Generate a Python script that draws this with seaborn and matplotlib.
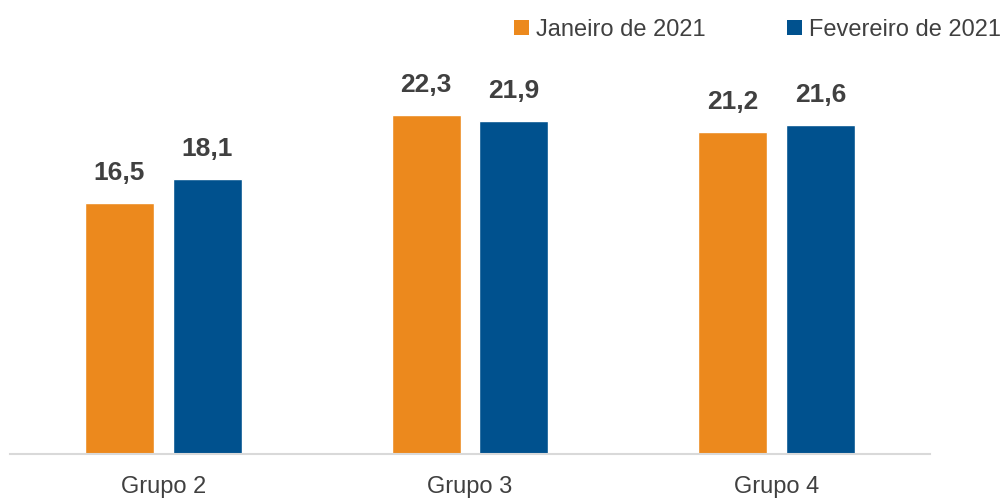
import matplotlib
matplotlib.use("Agg")
import matplotlib.pyplot as plt
import seaborn as sns
import pandas as pd
from matplotlib.patches import Patch

categories = ["Grupo 2", "Grupo 3", "Grupo 4"]
series_names = ["Janeiro de 2021", "Fevereiro de 2021"]
jan_values = [16.5, 22.3, 21.2]
fev_values = [18.1, 21.9, 21.6]

colors = ["#EC891D", "#00518E"]
text_color = "#404040"

sns.set_theme(style="white")
plt.rcParams["font.family"] = ["Liberation Sans", "DejaVu Sans"]

df = pd.DataFrame({
    "Grupo": categories * 2,
    "Período": [series_names[0]] * 3 + [series_names[1]] * 3,
    "Valor": jan_values + fev_values,
})

fig = plt.figure(figsize=(10.03, 5.01), dpi=100)
ax = fig.add_axes([10 / 1003, (501 - 454) / 501, 920 / 1003, 454 / 501])

sns.barplot(data=df, x="Grupo", y="Valor", hue="Período", hue_order=series_names,
            palette=colors, width=0.572, gap=0.213, saturation=1, ax=ax,
            legend=False, errorbar=None)

for cont in ax.containers:
    vals = [b.get_height() for b in cont]
    ax.bar_label(cont, labels=[f"{v:.1f}".replace(".", ",") for v in vals],
                 padding=13, fontsize=19, fontweight="bold", color=text_color)

ax.set_xlim(-0.5, 2.5)
ax.set_ylim(0, 29.85)
ax.set_xlabel("")
ax.set_ylabel("")
ax.set_yticks([])
ax.tick_params(axis="x", length=0, pad=16, labelsize=17, labelcolor=text_color)
for s in ["top", "right", "left"]:
    ax.spines[s].set_visible(False)
ax.spines["bottom"].set_color("#D9D9D9")
ax.spines["bottom"].set_linewidth(1.5)

handles = [Patch(facecolor=c, edgecolor="none") for c in colors]
fig.legend(handles, series_names, loc="center left",
           bbox_to_anchor=(514 / 1003, 1 - 30 / 501), ncol=2, frameon=False,
           fontsize=17, labelcolor=text_color, handlelength=0.63, handleheight=0.63,
           handletextpad=0.3, columnspacing=3.45, borderpad=0, borderaxespad=0)

fig.savefig("out.png", dpi=100)
